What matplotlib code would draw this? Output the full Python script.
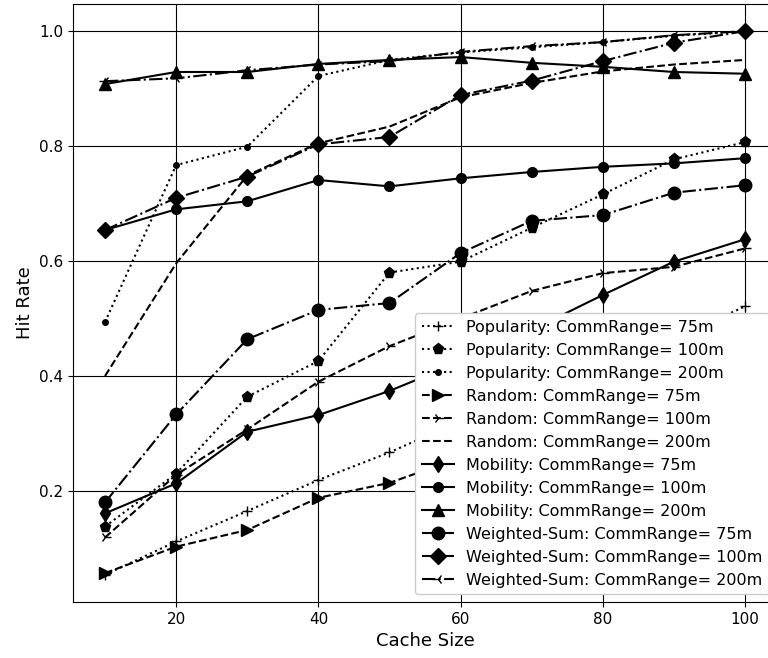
import numpy as np
import matplotlib
matplotlib.use("Agg")
import matplotlib.pyplot as plt

cache_size = [10, 20, 30, 40, 50, 60, 70, 80, 90, 100]

pop_75 = [0.054, 0.112, 0.165, 0.219, 0.267, 0.322, 0.365, 0.415, 0.465, 0.521]
pop_100 = [0.138, 0.230, 0.364, 0.426, 0.580, 0.599, 0.658, 0.716, 0.777, 0.807]
pop_200 = [0.494, 0.767, 0.799, 0.922, 0.950, 0.963, 0.972, 0.981, 0.992, 1.000]

rnd_75 = [0.057, 0.103, 0.132, 0.188, 0.214, 0.258, 0.300, 0.345, 0.390, 0.430]
rnd_100 = [0.119, 0.228, 0.307, 0.390, 0.452, 0.500, 0.548, 0.579, 0.590, 0.622]
rnd_200 = [0.400, 0.596, 0.749, 0.805, 0.834, 0.885, 0.910, 0.930, 0.942, 0.950]

mob_75 = [0.161, 0.213, 0.303, 0.332, 0.374, 0.425, 0.480, 0.541, 0.599, 0.638]
mob_100 = [0.654, 0.690, 0.704, 0.741, 0.730, 0.744, 0.755, 0.764, 0.770, 0.779]
mob_200 = [0.908, 0.929, 0.929, 0.943, 0.950, 0.955, 0.945, 0.938, 0.929, 0.926]

ws_75 = [0.180, 0.333, 0.464, 0.515, 0.527, 0.614, 0.670, 0.680, 0.719, 0.732]
ws_100 = [0.654, 0.710, 0.747, 0.803, 0.816, 0.889, 0.914, 0.948, 0.980, 1.000]
ws_200 = [0.913, 0.918, 0.932, 0.942, 0.948, 0.964, 0.974, 0.981, 0.993, 1.000]

series = [
    (pop_75, ':', '+', 7, 'Popularity: CommRange= 75m'),
    (pop_100, ':', 'p', 8, 'Popularity: CommRange= 100m'),
    (pop_200, ':', '.', 8, 'Popularity: CommRange= 200m'),
    (rnd_75, '--', '>', 8, 'Random: CommRange= 75m'),
    (rnd_100, '--', '4', 8, 'Random: CommRange= 100m'),
    (rnd_200, '--', '', 8, 'Random: CommRange= 200m'),
    (mob_75, '-', 'd', 8, 'Mobility: CommRange= 75m'),
    (mob_100, '-', 'o', 7, 'Mobility: CommRange= 100m'),
    (mob_200, '-', '^', 8, 'Mobility: CommRange= 200m'),
    (ws_75, '-.', 'o', 9, 'Weighted-Sum: CommRange= 75m'),
    (ws_100, '-.', 'D', 8, 'Weighted-Sum: CommRange= 100m'),
    (ws_200, '-.', '3', 8, 'Weighted-Sum: CommRange= 200m'),
]

fig = plt.figure(figsize=(7.68, 6.58), dpi=100)
ax = fig.add_axes([0.0951, 0.0851, 0.9167, 0.9088])

for vals, ls, mk, ms, name in series:
    ax.plot(cache_size, vals, linestyle=ls, marker=mk, markersize=ms,
            color='black', linewidth=1.5, label=name)

ax.set_xticks([20, 40, 60, 80, 100])
ax.set_yticks([0.2, 0.4, 0.6, 0.8, 1.0])
ax.tick_params(labelsize=11)
ax.grid(True, color='black', linewidth=0.8)
ax.set_xlabel('Cache Size', fontsize=13)
ax.set_ylabel('Hit Rate', fontsize=13)
ax.legend(loc='lower right', fontsize=11.5, framealpha=1)

fig.savefig('out.png', dpi=100)
